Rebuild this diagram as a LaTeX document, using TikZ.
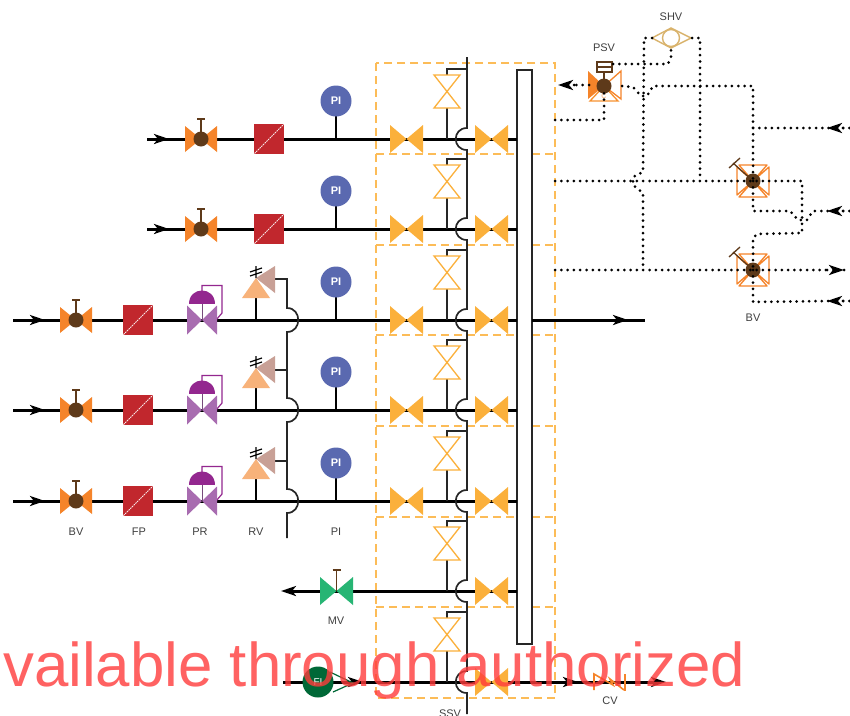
\documentclass[tikz,border=0pt]{standalone}
\usepackage{fontspec}
\setmainfont{Liberation Sans}
\usetikzlibrary{arrows.meta,calc}
\definecolor{brownv}{HTML}{5E3A1A}
\definecolor{orangev}{HTML}{F5842A}
\definecolor{yellowv}{HTML}{FBB03B}
\definecolor{redfp}{HTML}{C1272D}
\definecolor{bluepi}{HTML}{5A69B0}
\definecolor{purpled}{HTML}{93278F}
\definecolor{purplel}{HTML}{A86CB0}
\definecolor{rvo}{HTML}{F7B27A}
\definecolor{rvr}{HTML}{C8A096}
\definecolor{greenv}{HTML}{27B574}
\definecolor{greend}{HTML}{006837}
\definecolor{tanv}{HTML}{D9B36C}
\definecolor{wm}{HTML}{FF3B3B}
\tikzset{
  x=1pt,y=-1pt,
  pipe/.style={line width=3pt,black},
  pipehead/.style={pipe,-{Stealth[length=15pt,width=10pt,inset=4pt]}},
  busline/.style={line width=1.7pt,black!85},
  thin stem/.style={line width=1.5pt,black!85},
  dots/.style={line width=3pt,black,line cap=round,dash pattern=on 0pt off 6.3pt},
  dotshead/.style={dots,-{Stealth[length=15pt,width=10pt,inset=4pt]}},
  lbl/.style={font=\fontsize{11}{13}\selectfont,text=black!75,inner sep=0pt},
  badge/.style={font=\bfseries\fontsize{11}{13}\selectfont,text=white,inner sep=0pt},
  frame/.style={draw=yellowv!85,line width=1.2pt,dash pattern=on 8pt off 5pt},
  bowtie/.pic={\fill[#1] (-16.5,-14)--(0,0)--(-16.5,14)--cycle (16.5,-14)--(0,0)--(16.5,14)--cycle;},
  bvalve/.pic={
    \fill[orangev] (-16,-13)--(0,0)--(-16,13)--cycle (16,-13)--(0,0)--(16,13)--cycle;
    \draw[brownv,line width=1.2pt] (0,0)--(0,-20) (-4,-20)--(4,-20);
    \fill[brownv] (0,0) circle[radius=7.5];},
  filterp/.pic={
    \fill[redfp] (-15,-15) rectangle (15,15);
    \draw[white!90!redfp,line width=.8pt,dash pattern=on 1.6pt off .8pt] (-14.5,14.5)--(14.5,-14.5);},
  prv/.pic={
    \draw[purpled,line width=1.2pt] (0,-28)--(0,-34.5)--(20,-34.5)--(20,-7)--(14,0);
    \fill[purplel] (-15,-14.5)--(0,0)--(-15,14.5)--cycle (15,-14.5)--(0,0)--(15,14.5)--cycle;
    \draw[purplel!70!black,line width=.8pt] (0,-17)--(0,0);
    \fill[purpled] (-13.3,-16.5) .. controls (-13.3,-34) and (13.3,-34) .. (13.3,-16.5) --cycle;},
  rvalve/.pic={
    \draw[line width=2.4pt] (0,-22)--(0,0);
    \fill[rvr] (19,-54)--(0,-42)--(19,-27)--cycle;
    \fill[rvo] (0,-42)--(14,-22)--(-14,-22)--cycle;
    \draw[black,line width=1.2pt] (0,-54)--(0,-42) (-6,-48)--(6,-52) (-6,-44)--(6,-48);},
  pigauge/.pic={
    \draw[line width=2.4pt] (0,0)--(0,-38);
    \fill[bluepi] (0,-38) circle[radius=15.5];},
  hollowv/.pic={
    \draw[yellowv,line width=1.3pt] (-13,-16.5)--(13,-16.5)--(-13,16.5)--(13,16.5)--cycle;},
  crossv/.pic={
    \draw[orangev,line width=1.3pt,line join=round]
      (-14,-16)--(14,-16)--(0,0)--cycle (16,-14)--(16,14)--(0,0)--cycle
      (-14,16)--(14,16)--(0,0)--cycle (-16,-14)--(-16,14)--(0,0)--cycle;
    \draw[brownv,line width=1.3pt] (0,0)--(-20,-18) (-24,-13)--(-13,-23);
    \fill[brownv] (0,0) circle[radius=7.5];},
}
\begin{document}
\begin{tikzpicture}
\useasboundingbox (0,0) rectangle (850,715);
\fill[white] (0,0) rectangle (850,715);

% named anchors
\foreach \n/\r in {1/139,2/229,3/320,4/410,5/501,6/591,7/682}{
  \coordinate (gate\n) at (406.5,\r);
  \coordinate (outv\n) at (491.5,\r);
  \coordinate (tank\n) at (517,\r);
  \coordinate (hv\n) at (447,\r-47.5);
}
\coordinate (psv) at (604,86);
\coordinate (shv) at (671,38);
\coordinate (bva) at (753,181);
\coordinate (bvb) at (753,270);

% dashed frames
\draw[frame] (376,63) rectangle (555,698);
\foreach \y in {154,245,335,426,517,607}{
  \draw[frame] (376,\y)--(555,\y);
}

% header tank
\node[draw=black!85,fill=white,line width=1.6pt,minimum width=15pt,minimum height=574pt,inner sep=0pt] (tank) at (524.5,357) {};

% main pipes
\draw[pipe] (147,139)--(tank1);
\draw[pipehead] (152,139)--(169,139);
\draw[pipe] (147,229)--(tank2);
\draw[pipehead] (152,229)--(169,229);
\foreach \n/\r in {3/320,4/410,5/501}{
  \draw[pipe] (13,\r)--(tank\n);
  \draw[pipehead] (28,\r)--(45,\r);
}
\draw[pipe] (532,320)--(645,320);
\draw[pipehead] (611,320)--(628,320);
\draw[pipe] (tank6)--(290,591);
\draw[pipehead] (298,591)--(281,591);
\draw[pipe] (283,682)--(650,682);
\draw[pipehead] (346,682)--(363,682);
\draw[pipehead] (561,682)--(578,682);
\draw[pipehead] (648,682)--(666,682);

% left bus with hops
\draw[busline] (275,279)--(287,279)--(287,308)
  .. controls (302,308) and (302,332) .. (287,332) -- (287,370) -- (287,398)
  .. controls (302,398) and (302,422) .. (287,422) -- (287,489)
  .. controls (302,489) and (302,513) .. (287,513) -- (287,538);
\draw[busline] (275,370)--(287,370) (275,461)--(287,461);

% right bus with hops
\draw[busline] (467,57)--(467,128)
  .. controls (452,128) and (452,150) .. (467,150) -- (467,218)
  .. controls (452,218) and (452,240) .. (467,240) -- (467,309)
  .. controls (452,309) and (452,331) .. (467,331) -- (467,399)
  .. controls (452,399) and (452,421) .. (467,421) -- (467,490)
  .. controls (452,490) and (452,512) .. (467,512) -- (467,580)
  .. controls (452,580) and (452,602) .. (467,602) -- (467,671)
  .. controls (452,671) and (452,693) .. (467,693) -- (467,714);

% hollow valves on the bus
\foreach \n/\r in {1/139,2/229,3/320,4/410,5/501,6/591,7/682}{
  \draw[thin stem] (447,\r)--(447,\r-70)--(467,\r-70);
  \fill[white] (434,\r-64) rectangle (460,\r-31);
  \pic at (hv\n) {hollowv};
  \pic at (outv\n) {bowtie=yellowv};
}
\foreach \n in {1,2,3,4,5}{ \pic at (gate\n) {bowtie=yellowv}; }

% rows 1-2 equipment
\foreach \r/\n in {139/a,229/b}{
  \pic at (201,\r) {bvalve};
  \pic at (269,\r) {filterp};
  \pic at (336,\r) {pigauge};
  \node[badge] (pi\n) at (336,\r-38) {PI};
}
% rows 3-5 equipment
\foreach \r/\n in {320/c,410/d,501/e}{
  \pic at (76,\r) {bvalve};
  \pic at (138,\r) {filterp};
  \pic at (202,\r) {prv};
  \pic at (256,\r) {rvalve};
  \pic at (336,\r) {pigauge};
  \node[badge] (pi\n) at (336,\r-38) {PI};
}

% MV
\pic at (336.5,591) {bowtie=greenv};
\draw[brownv,line width=1.2pt] (336.5,591)--(336.5,570) (332.5,570)--(340.5,570);

% FI
\draw[greend,line width=1.2pt] (330,672)--(353,683)--(333,692);
\node[circle,fill=greend,minimum size=31pt,inner sep=0pt,font=\fontsize{10}{12}\selectfont,text=white] (fi) at (318,682) {FI};

% CV
\draw[orangev,line width=1.6pt] (594,690)--(594,674)--(613,685)--(610,679)--(624,690);
\draw[orangev,line width=1.6pt] (625,674)--(625,691);

% PSV
\fill[orangev] (588,71)--(604,86)--(588,99)--cycle;
\draw[orangev,line width=1.3pt] (621,71)--(604,86)--(621,99)--cycle;
\draw[orangev!70!yellowv,line width=1.3pt] (604,86)--(618,101)--(590,101)--cycle;
\node[font=\fontsize{7}{8}\selectfont,text=orangev!70!white,inner sep=0pt] (psvc) at (604,96.5) {C};
\draw[brownv,line width=1.1pt] (597,62) rectangle (612,72) (597,67)--(612,67) (604,72)--(psv);
\fill[brownv] (psv) circle[radius=7.5];

% SHV
\draw[tanv,line width=1.4pt] (652,38)--(671,28)--(691,38)--(671,48)--cycle;
\draw[tanv,line width=1.4pt] (shv) circle[radius=8.5];

% 4-way valves
\pic at (bva) {crossv};
\pic at (bvb) {crossv};

% dotted connectors
\draw[dots] (555,120)--(604,120)--(604,93);
\draw[dots] (589,85)--(572,85);
\draw[dotshead] (574,85)--(558,85);
\draw[dots] (622,86)--(633,87)--(641,96)--(647,96)--(653,86)--(753,86)--(bva);
\draw[dots] (753,128)--(830,128);
\draw[dotshead] (843,128)--(827,128);
\draw[dots] (843,128)--(850,128);
\draw[dots] (613,64)--(668,64)--(671,57)--(671,48);
\draw[dots] (652,38)--(644,38)--(643,172)--(633,177)--(633,185)--(643,193)--(643,270);
\draw[dots] (692,38)--(700,38)--(700,181);
\draw[dots] (555,181)--(bva)--(802,181)--(802,233)--(757,234)--(753,238)--(bvb);
\draw[dots] (bva)--(753,211)--(790,211)--(798,220)--(807,220)--(813,211)--(830,211);
\draw[dotshead] (843,211)--(827,211);
\draw[dots] (843,211)--(850,211);
\draw[dots] (555,270)--(bvb)--(830,270);
\draw[dotshead] (827,270)--(844,270);
\draw[dots] (844,270)--(850,270);
\draw[dots] (bvb)--(753,302)--(830,301);
\draw[dotshead] (843,301)--(827,301);
\draw[dots] (843,301)--(850,301);

% labels
\node[lbl] (lbv) at (76,532) {BV};
\node[lbl] (lfp) at (139,532) {FP};
\node[lbl] (lpr) at (200,532) {PR};
\node[lbl] (lrv) at (256,532) {RV};
\node[lbl] (lpi) at (336,532) {PI};
\node[lbl] (lmv) at (336,621) {MV};
\node[lbl] (lcv) at (610,701) {CV};
\node[lbl] (lssv) at (450,714) {SSV};
\node[lbl] (lbvb) at (753,318) {BV};
\node[lbl] (lpsv) at (604,48) {PSV};
\node[lbl] (lshv) at (671,17) {SHV};

% overlay text
\node[anchor=base west,inner sep=0pt,text=wm,text opacity=.8,font=\fontsize{61.8}{70}\selectfont] (wmark) at (3,686) {vailable through authorized};
\end{tikzpicture}
\end{document}
